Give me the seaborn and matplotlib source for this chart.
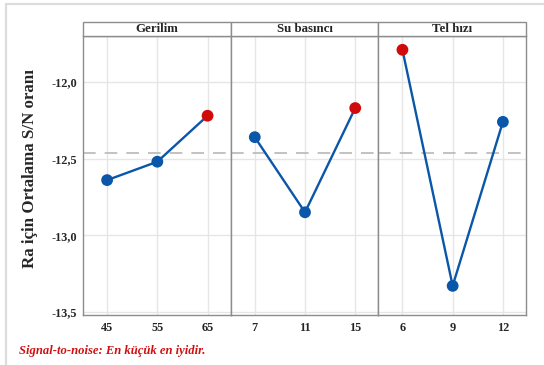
import matplotlib
matplotlib.use("Agg")
import matplotlib.pyplot as plt
from matplotlib.patches import Rectangle
from matplotlib.ticker import FuncFormatter
import seaborn as sns
import pandas as pd

# Main effects for S/N ratios (smaller is better)
factors = ["Gerilim", "Su basıncı", "Tel hızı"]
levels = {
    "Gerilim": ["45", "55", "65"],
    "Su basıncı": ["7", "11", "15"],
    "Tel hızı": ["6", "9", "12"],
}
sn_means = {
    "Gerilim": [-12.64, -12.52, -12.22],
    "Su basıncı": [-12.36, -12.85, -12.17],
    "Tel hızı": [-11.79, -13.33, -12.26],
}
overall_mean = -12.463
y_ticks = [-12.0, -12.5, -13.0, -13.5]

sns.set_theme(style="white")
serif = ["Liberation Serif", "DejaVu Serif"]
plt.rcParams["font.family"] = serif

BLUE = "#0A56A8"
RED = "#D10A0A"
SPINE = "#8C8C8C"

fig = plt.figure(figsize=(5.44, 3.65), dpi=100)
W, H = 544, 365
left, right, top, bottom = 83, 526, 36, 315
head_top = 22
panel_w = (right - left) / 3

# outer frame
fig.add_artist(plt.Line2D([6 / W, 1], [1 - 4 / H, 1 - 4 / H], color="#DCDCDC", lw=1.6))
fig.add_artist(plt.Line2D([6 / W, 6 / W], [0, 1 - 4 / H], color="#DCDCDC", lw=1.6))

axes = []
for i, fac in enumerate(factors):
    x0 = (left + i * panel_w) / W
    ax = fig.add_axes([x0, 1 - bottom / H, panel_w / W, (bottom - top) / H],
                      sharey=axes[0] if axes else None)
    axes.append(ax)
    df = pd.DataFrame({"pos": range(len(levels[fac])), "sn": sn_means[fac]})
    df["best"] = df["sn"] == df["sn"].max()

    ax.axhline(overall_mean, color="#BDBDBD", lw=1.3, ls=(0, (7, 5)), zorder=1)
    sns.lineplot(data=df, x="pos", y="sn", ax=ax, color=BLUE, lw=1.7, zorder=3)
    sns.scatterplot(data=df, x="pos", y="sn", hue="best", palette={False: BLUE, True: RED},
                    s=72, edgecolor="none", legend=False, ax=ax, zorder=4)

    ax.set_xlim(-0.48, 2.46)
    ax.set_ylim(-13.52, -11.70)
    ax.set_xticks(range(len(levels[fac])))
    ax.set_xticklabels(levels[fac])
    ax.set_yticks(y_ticks)
    ax.grid(True, color="#E6E6E6", lw=1.0)
    ax.set_axisbelow(True)
    ax.set_xlabel("")
    ax.set_ylabel("")
    for s in ax.spines.values():
        s.set_color(SPINE)
        s.set_linewidth(1.0)
    ax.tick_params(axis="x", length=3, width=0.8, color=SPINE, pad=2,
                   labelsize=8.8)
    for lab in ax.get_xticklabels():
        lab.set_fontweight("bold")
    if i == 0:
        ax.yaxis.set_major_formatter(FuncFormatter(lambda v, p: f"{v:.1f}".replace(".", ",")))
        ax.tick_params(axis="y", length=3, width=0.8, color=SPINE, pad=1, labelsize=8.8)
        for lab in ax.get_yticklabels():
            lab.set_fontweight("bold")
    else:
        ax.tick_params(axis="y", left=False, labelleft=False)

    # panel header strip
    hh = (bottom - head_top) / (bottom - top) - 1
    ax.add_patch(Rectangle((0, 1), 1, hh, transform=ax.transAxes, facecolor="white",
                           edgecolor=SPINE, lw=1.0, clip_on=False, zorder=5))
    ax.text(0.5, 1 + hh / 2, fac, transform=ax.transAxes, ha="center", va="center",
            fontsize=9.3, fontweight="bold", zorder=6)

fig.text(30 / W, 1 - 169 / H, "Ra için Ortalama S/N oranı", rotation=90,
         ha="center", va="center", fontsize=12.2, fontweight="bold")
fig.text(19 / W, 1 - 351 / H, "Signal-to-noise: En küçük en iyidir.", color="#D01010",
         ha="left", va="center", fontsize=9.1, fontweight="bold", fontstyle="italic")

fig.savefig("out.png", dpi=100)
